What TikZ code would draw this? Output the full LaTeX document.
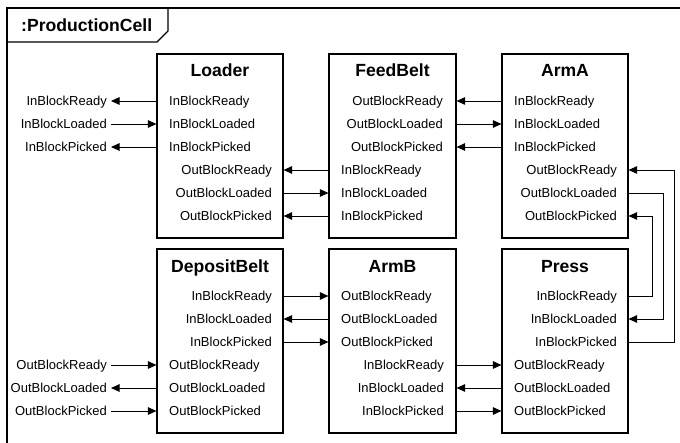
\documentclass[tikz,border=0pt]{standalone}
\usepackage{fontspec}
\setmainfont{Liberation Sans}
\usetikzlibrary{arrows.meta}
\begin{document}
\begin{tikzpicture}[x=1bp,y=-1bp,
  box/.style={draw=black,line width=1.1bp,rectangle,inner sep=0pt,minimum width=126bp,minimum height=184bp},
  port/.style={font=\fontsize{13bp}{15bp}\selectfont,inner sep=0pt,text height=9bp,text depth=0pt},
  ttl/.style={font=\fontsize{17.6bp}{20bp}\selectfont\bfseries,inner sep=0pt,anchor=base},
  conn/.style={line width=0.9bp,-{Triangle[length=8.5bp,width=7.5bp]}},
  frame/.style={line width=1.1bp}]
\useasboundingbox (0,0) rectangle (680,443);
\clip (0,0) rectangle (680,443);
% frame
\draw[frame] (7,450) -- (7,8) -- (690,8);
\draw[frame] (7,42) -- (157,42) -- (168,31) -- (168,8);
\node[ttl,anchor=base west] (pc) at (21,31.5) {:ProductionCell};
% boxes
\node[box] (Loader) at (220,146) {};
\node[box,minimum width=127bp] (FeedBelt) at (392.5,146) {};
\node[box] (ArmA) at (565,146) {};
\node[box] (DepositBelt) at (220,341) {};
\node[box,minimum width=127bp] (ArmB) at (392.5,341) {};
\node[box] (Press) at (565,341) {};
% titles
\node[ttl] (Loader-t) at (220,77) {Loader};
\node[ttl] (FeedBelt-t) at (392.5,77) {FeedBelt};
\node[ttl] (ArmA-t) at (565,77) {ArmA};
\node[ttl] (DepositBelt-t) at (220,272.5) {DepositBelt};
\node[ttl] (ArmB-t) at (392.5,272.5) {ArmB};
\node[ttl] (Press-t) at (565,272.5) {Press};
% Loader ports
\node[port,anchor=west] (L-ir) at (169,101) {InBlockReady};
\node[port,anchor=west] (L-il) at (169,124) {InBlockLoaded};
\node[port,anchor=west] (L-ip) at (169,147) {InBlockPicked};
\node[port,anchor=east] (L-or) at (272,170) {OutBlockReady};
\node[port,anchor=east] (L-ol) at (272,193) {OutBlockLoaded};
\node[port,anchor=east] (L-op) at (272,216) {OutBlockPicked};
% FeedBelt ports
\node[port,anchor=east] (F-or) at (443,101) {OutBlockReady};
\node[port,anchor=east] (F-ol) at (443,124) {OutBlockLoaded};
\node[port,anchor=east] (F-op) at (443,147) {OutBlockPicked};
\node[port,anchor=west] (F-ir) at (341,170) {InBlockReady};
\node[port,anchor=west] (F-il) at (341,193) {InBlockLoaded};
\node[port,anchor=west] (F-ip) at (341,216) {InBlockPicked};
% ArmA ports
\node[port,anchor=west] (A-ir) at (514,101) {InBlockReady};
\node[port,anchor=west] (A-il) at (514,124) {InBlockLoaded};
\node[port,anchor=west] (A-ip) at (514,147) {InBlockPicked};
\node[port,anchor=east] (A-or) at (617,170) {OutBlockReady};
\node[port,anchor=east] (A-ol) at (617,193) {OutBlockLoaded};
\node[port,anchor=east] (A-op) at (617,216) {OutBlockPicked};
% DepositBelt ports
\node[port,anchor=east] (D-ir) at (272,296) {InBlockReady};
\node[port,anchor=east] (D-il) at (272,319) {InBlockLoaded};
\node[port,anchor=east] (D-ip) at (272,342) {InBlockPicked};
\node[port,anchor=west] (D-or) at (169,365) {OutBlockReady};
\node[port,anchor=west] (D-ol) at (169,388) {OutBlockLoaded};
\node[port,anchor=west] (D-op) at (169,411) {OutBlockPicked};
% ArmB ports
\node[port,anchor=west] (B-or) at (341,296) {OutBlockReady};
\node[port,anchor=west] (B-ol) at (341,319) {OutBlockLoaded};
\node[port,anchor=west] (B-op) at (341,342) {OutBlockPicked};
\node[port,anchor=east] (B-ir) at (444,365) {InBlockReady};
\node[port,anchor=east] (B-il) at (444,388) {InBlockLoaded};
\node[port,anchor=east] (B-ip) at (444,411) {InBlockPicked};
% Press ports
\node[port,anchor=east] (P-ir) at (617,296) {InBlockReady};
\node[port,anchor=east] (P-il) at (617,319) {InBlockLoaded};
\node[port,anchor=east] (P-ip) at (617,342) {InBlockPicked};
\node[port,anchor=west] (P-or) at (514,365) {OutBlockReady};
\node[port,anchor=west] (P-ol) at (514,388) {OutBlockLoaded};
\node[port,anchor=west] (P-op) at (514,411) {OutBlockPicked};
% external ends
\coordinate (x1) at (111,101);
\coordinate (x2) at (111,124);
\coordinate (x3) at (111,147);
\coordinate (x4) at (111,365);
\coordinate (x5) at (111,388);
\coordinate (x6) at (111,411);
\node[port,anchor=east] (x1-t) at (107,101) {InBlockReady};
\node[port,anchor=east] (x2-t) at (107,124) {InBlockLoaded};
\node[port,anchor=east] (x3-t) at (107,147) {InBlockPicked};
\node[port,anchor=east] (x4-t) at (107,365) {OutBlockReady};
\node[port,anchor=east] (x5-t) at (107,388) {OutBlockLoaded};
\node[port,anchor=east] (x6-t) at (107,411) {OutBlockPicked};
\coordinate (c1) at (652,0);
\coordinate (c2) at (663,0);
\coordinate (c3) at (674,0);
% connectors top
\draw[conn] (Loader.west |- L-ir) -- (x1);
\draw[conn] (x2) -- (Loader.west |- L-il);
\draw[conn] (Loader.west |- L-ip) -- (x3);
\draw[conn] (FeedBelt.west |- F-ir) -- (Loader.east |- L-or);
\draw[conn] (Loader.east |- L-ol) -- (FeedBelt.west |- F-il);
\draw[conn] (FeedBelt.west |- F-ip) -- (Loader.east |- L-op);
\draw[conn] (ArmA.west |- A-ir) -- (FeedBelt.east |- F-or);
\draw[conn] (FeedBelt.east |- F-ol) -- (ArmA.west |- A-il);
\draw[conn] (ArmA.west |- A-ip) -- (FeedBelt.east |- F-op);
% right side
\draw[conn] (Press.east |- P-ip) -- (P-ip -| c3) -- (A-or -| c3) -- (ArmA.east |- A-or);
\draw[conn] (ArmA.east |- A-ol) -- (A-ol -| c2) -- (P-il -| c2) -- (Press.east |- P-il);
\draw[conn] (Press.east |- P-ir) -- (P-ir -| c1) -- (A-op -| c1) -- (ArmA.east |- A-op);
% connectors bottom
\draw[conn] (DepositBelt.east |- D-ir) -- (ArmB.west |- B-or);
\draw[conn] (ArmB.west |- B-ol) -- (DepositBelt.east |- D-il);
\draw[conn] (DepositBelt.east |- D-ip) -- (ArmB.west |- B-op);
\draw[conn] (ArmB.east |- B-ir) -- (Press.west |- P-or);
\draw[conn] (Press.west |- P-ol) -- (ArmB.east |- B-il);
\draw[conn] (ArmB.east |- B-ip) -- (Press.west |- P-op);
\draw[conn] (x4) -- (DepositBelt.west |- D-or);
\draw[conn] (DepositBelt.west |- D-ol) -- (x5);
\draw[conn] (x6) -- (DepositBelt.west |- D-op);
\end{tikzpicture}
\end{document}
